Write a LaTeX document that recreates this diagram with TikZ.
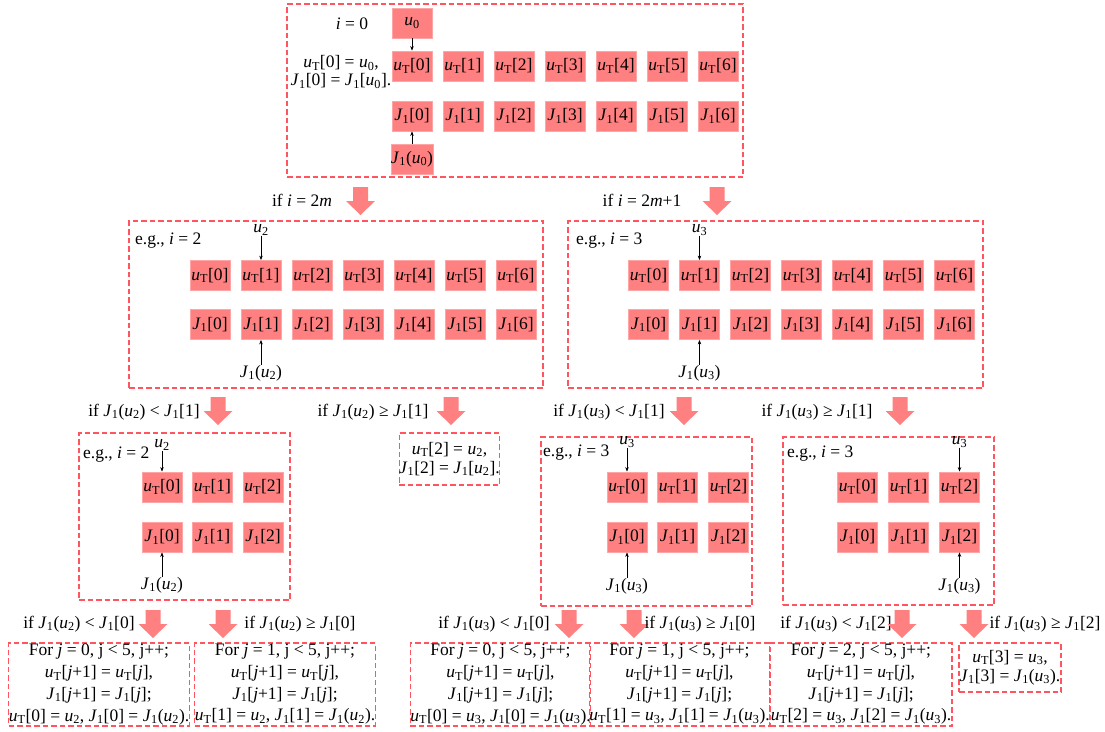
\documentclass[tikz,border=0pt]{standalone}
\usepackage{fontspec}
\setmainfont{Liberation Serif}
\usetikzlibrary{arrows.meta}
\definecolor{cellred}{RGB}{255,128,128}
\definecolor{cellline}{RGB}{255,165,165}
\definecolor{dashred}{RGB}{255,85,95}
\newcommand\vu[1]{\textit{u}\textsubscript{#1}}
\newcommand\uT{\textit{u}\textsubscript{T}}
\newcommand\Jo{\textit{J}\textsubscript{1}}
\newcommand\vi{\textit{i}}
\newcommand\vj{\textit{j}}
\tikzset{
  txt/.style={font=\fontsize{17.5}{20}\selectfont, inner sep=0pt},
  cell/.style={txt, fill=cellred, draw=cellline, line width=0.8pt, minimum width=40pt, minimum height=30pt},
  dbox/.style={draw=dashred, line width=1.2pt, dash pattern=on 5.5pt off 3pt, inner sep=0pt},
  ptr/.style={-{Stealth[length=4.5pt,width=3.5pt]}, line width=0.6pt},
  bigarrow/.pic={\fill[cellred] (-7.5,0) -- (7.5,0) -- (7.5,14) -- (14.5,14) -- (0,28) -- (-14.5,14) -- (-7.5,14) -- cycle;}
}
\begin{document}
\begin{tikzpicture}[x=1pt,y=-1pt]
\useasboundingbox (0,0) rectangle (1105,731);

% ---------- top box ----------
\node[dbox, minimum width=456pt, minimum height=173pt] (B0) at (515,90.5) {};
\node[txt] (t0i) at (352,24) {\vi{} = 0};
\node[txt, align=center, font=\fontsize{17.5}{17.5}\selectfont] (t0eq) at (341,72) {\uT[0] = \vu{0},\\ \Jo[0] = \Jo[\vu{0}].};
\node[cell] (u0) at (412,23) {\vu{0}};
\foreach \k in {0,...,6} {
  \node[cell] (tu\k) at ({412+51*\k},66) {\uT[\k]};
  \node[cell] (tj\k) at ({412+51*\k},116) {\Jo[\k]};
}
\node[cell] (J0u0) at (412,159) {\Jo(\vu{0})};
\draw[ptr] (u0.south) -- (tu0.north);
\draw[ptr] (J0u0.north) -- (tj0.south);

% ---------- level 2 ----------
\node[txt] (c2L) at (302,200) {if \vi{} = 2\textit{m}};
\pic at (360.5,187) {bigarrow};
\node[txt] (c2R) at (642,200) {if \vi{} = 2\textit{m}+1};
\pic at (717,187) {bigarrow};

\node[dbox, minimum width=414pt, minimum height=167pt] (B1) at (336,304.5) {};
\node[txt, anchor=west] (eg1) at (135,241) {e.g., \vi{} = 2};
\foreach \k in {0,...,6} {
  \node[cell] (mLu\k) at ({210+51*\k},275.5) {\uT[\k]};
  \node[cell] (mLj\k) at ({210+51*\k},324.5) {\Jo[\k]};
}
\node[txt] (lu2) at (261,230) {\vu{2}};
\node[txt] (lJ2) at (261,373) {\Jo(\vu{2})};
\draw[ptr] (lu2.south) -- (mLu1.north);
\draw[ptr] (lJ2.north) -- (mLj1.south);

\node[dbox, minimum width=415pt, minimum height=167pt] (B2) at (775.5,304.5) {};
\node[txt, anchor=west] (eg2) at (576,241) {e.g., \vi{} = 3};
\foreach \k in {0,...,6} {
  \node[cell] (mRu\k) at ({648.5+51*\k},275.5) {\uT[\k]};
  \node[cell] (mRj\k) at ({648.5+51*\k},324.5) {\Jo[\k]};
}
\node[txt] (lu3) at (699.5,230) {\vu{3}};
\node[txt] (lJ3) at (699.5,373) {\Jo(\vu{3})};
\draw[ptr] (lu3.south) -- (mRu1.north);
\draw[ptr] (lJ3.north) -- (mRj1.south);

% ---------- level 3 ----------
\node[txt] (c3a) at (144,412) {if \Jo(\vu{2}) < \Jo[1]};
\pic at (218,397) {bigarrow};
\node[txt] (c3b) at (373,412) {if \Jo(\vu{2}) ≥ \Jo[1]};
\pic at (451,397) {bigarrow};
\node[txt] (c3c) at (609,412) {if \Jo(\vu{3}) < \Jo[1]};
\pic at (684,397) {bigarrow};
\node[txt] (c3d) at (817,412) {if \Jo(\vu{3}) ≥ \Jo[1]};
\pic at (900,397) {bigarrow};

% left box (i=2, smaller)
\node[dbox, minimum width=211pt, minimum height=167pt] (B3) at (184.5,516.5) {};
\node[txt, anchor=west] (eg3) at (83,455) {e.g., \vi{} = 2};
\foreach \k/\x in {0/162,1/212.5,2/263} {
  \node[cell] (aU\k) at (\x,487) {\uT[\k]};
  \node[cell] (aJ\k) at (\x,537) {\Jo[\k]};
}
\node[txt] (alu) at (162,445) {\vu{2}};
\node[txt] (alJ) at (162,585) {\Jo(\vu{2})};
\draw[ptr] (alu.south) -- (aU0.north);
\draw[ptr] (alJ.north) -- (aJ0.south);

% small box
\node[dbox, minimum width=99pt, minimum height=52pt, align=center, txt, font=\fontsize{17.5}{19}\selectfont] (B4) at (449.5,459) {\uT[2] = \vu{2},\\ \Jo[2] = \Jo[\vu{2}].};

% middle box (i=3)
\node[dbox, minimum width=211pt, minimum height=169pt] (B5) at (646.5,521.5) {};
\node[txt, anchor=west] (eg5) at (543,453) {e.g., \vi{} = 3};
\foreach \k/\x in {0/627,1/677.5,2/728.5} {
  \node[cell] (bU\k) at (\x,487) {\uT[\k]};
  \node[cell] (bJ\k) at (\x,537) {\Jo[\k]};
}
\node[txt] (blu) at (627,442) {\vu{3}};
\node[txt] (blJ) at (627,586) {\Jo(\vu{3})};
\draw[ptr] (blu.south) -- (bU0.north);
\draw[ptr] (blJ.north) -- (bJ0.south);

% right box (i=3)
\node[dbox, minimum width=211pt, minimum height=168pt] (B6) at (888.5,521) {};
\node[txt, anchor=west] (eg6) at (787,454) {e.g., \vi{} = 3};
\foreach \k/\x in {0/857.5,1/908.5,2/959.5} {
  \node[cell] (cU\k) at (\x,487) {\uT[\k]};
  \node[cell] (cJ\k) at (\x,537) {\Jo[\k]};
}
\node[txt] (clu) at (959.5,442) {\vu{3}};
\node[txt] (clJ) at (959.5,586) {\Jo(\vu{3})};
\draw[ptr] (clu.south) -- (cU2.north);
\draw[ptr] (clJ.north) -- (cJ2.south);

% ---------- level 4 ----------
\node[txt] (c4a) at (79,624) {if \Jo(\vu{2}) < \Jo[0]};
\pic at (153,610) {bigarrow};
\pic at (223,610) {bigarrow};
\node[txt] (c4b) at (300,624) {if \Jo(\vu{2}) ≥ \Jo[0]};
\node[txt] (c4c) at (494,624) {if \Jo(\vu{3}) < \Jo[0]};
\pic at (569,610) {bigarrow};
\pic at (634,610) {bigarrow};
\node[txt] (c4d) at (700,624) {if \Jo(\vu{3}) ≥ \Jo[0]};
\node[txt] (c4e) at (836,624) {if \Jo(\vu{3}) < \Jo[2]};
\pic at (902,610) {bigarrow};
\pic at (974,610) {bigarrow};
\node[txt] (c4f) at (1045,624) {if \Jo(\vu{3}) ≥ \Jo[2]};

\tikzset{fbox/.style={dbox, txt, align=center, minimum height=83pt, font=\fontsize{17.5}{21.7}\selectfont}}
\node[fbox, minimum width=180pt] (D1) at (99,684.5) {For \vj{} = 0, j < 5, j++;\\ \uT[\vj+1] = \uT[\vj],\\ \Jo[\vj+1] = \Jo[\vj];\\ \uT[0] = \vu{2}, \Jo[0] = \Jo(\vu{2}).};
\node[fbox, minimum width=180pt] (D2) at (285,684.5) {For \vj{} = 1, j < 5, j++;\\ \uT[\vj+1] = \uT[\vj],\\ \Jo[\vj+1] = \Jo[\vj];\\ \uT[1] = \vu{2}, \Jo[1] = \Jo(\vu{2}).};
\node[fbox, minimum width=177pt] (D3) at (500.5,684.5) {For \vj{} = 0, j < 5, j++;\\ \uT[\vj+1] = \uT[\vj],\\ \Jo[\vj+1] = \Jo[\vj];\\ \uT[0] = \vu{3}, \Jo[0] = \Jo(\vu{3}).};
\node[fbox, minimum width=173pt] (D4) at (679.5,684.5) {For \vj{} = 1, j < 5, j++;\\ \uT[\vj+1] = \uT[\vj],\\ \Jo[\vj+1] = \Jo[\vj];\\ \uT[1] = \vu{3}, \Jo[1] = \Jo(\vu{3}).};
\node[fbox, minimum width=182pt] (D5) at (861,684.5) {For \vj{} = 2, j < 5, j++;\\ \uT[\vj+1] = \uT[\vj],\\ \Jo[\vj+1] = \Jo[\vj];\\ \uT[2] = \vu{3}, \Jo[2] = \Jo(\vu{3}).};
\node[dbox, txt, align=center, minimum width=102pt, minimum height=49pt, font=\fontsize{17.5}{19}\selectfont] (D6) at (1010,667.5) {\uT[3] = \vu{3},\\ \Jo[3] = \Jo(\vu{3}).};
\end{tikzpicture}
\end{document}
